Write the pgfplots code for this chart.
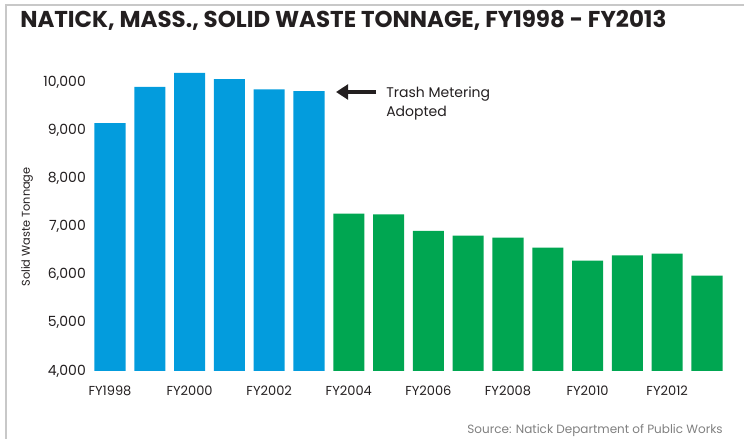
\documentclass[border=0pt]{standalone}
\usepackage{fontspec}
\setmainfont{Poppins}
\newfontfamily\titlefont{Poppins}
\usepackage{pgfplots}
\pgfplotsset{compat=1.18}
\usetikzlibrary{arrows.meta}
\definecolor{barblue}{HTML}{039CDD}
\definecolor{bargreen}{HTML}{00A651}
\definecolor{txt}{HTML}{231F20}
\definecolor{frame}{HTML}{C8C8C8}
\begin{document}
\begin{tikzpicture}[x=0.75pt,y=0.75pt]
\useasboundingbox (0,0) rectangle (744,439);
% frame
\draw[frame,line width=1.5pt] (6,0) -- (6,434) -- (744,434);
% title
\node[anchor=base west,inner sep=0pt,text=txt] at (20,411)
  {\titlefont\bfseries\fontsize{17.2}{20}\selectfont NATICK, MASS., SOLID WASTE TONNAGE, FY1998 - FY2013};
\begin{axis}[
  at={(67.575pt,51pt)}, anchor=south west,
  scale only axis, width=477.6pt, height=234.75pt,
  xmin=-0.5, xmax=15.5, ymin=4000, ymax=10500,
  axis line style={draw=none}, tick style={draw=none},
  ytick={4000,5000,...,10000},
  scaled y ticks=false,
  xtick={0,2,...,14},
  xticklabels={FY1998,FY2000,FY2002,FY2004,FY2006,FY2008,FY2010,FY2012},
  /pgf/number format/1000 sep={,},
  /pgf/number format/assume math mode=true,
  yticklabel style={font=\fontsize{10.5}{12}\selectfont, text=txt, inner sep=0pt, xshift=-3pt},
  xticklabel style={font=\fontsize{9.75}{12}\selectfont, text=txt, inner sep=0pt, yshift=-11pt},
  bar width=0.78,
]
\addplot[ybar, bar shift=0pt, fill=barblue, draw=none] coordinates {
  (0,9150) (1,9900) (2,10190) (3,10060) (4,9850) (5,9810)};
\addplot[ybar, bar shift=0pt, fill=bargreen, draw=none] coordinates {
  (6,7270) (7,7250) (8,6910) (9,6810) (10,6770) (11,6560)
  (12,6290) (13,6400) (14,6440) (15,5980)};
\end{axis}
% y label
\node[rotate=90,text=txt,font=\fontsize{8.5}{10}\selectfont] at (27,212) {Solid Waste Tonnage};
% annotation
\draw[txt,line width=2.6pt,-{Triangle[length=9pt,width=11pt]}] (376,347) -- (336,347);
\node[anchor=base west,inner sep=0pt,text=txt,align=left,font=\fontsize{10.5}{14}\selectfont] at (386,341) {Trash Metering};
\node[anchor=base west,inner sep=0pt,text=txt,font=\fontsize{10.5}{14}\selectfont] at (386,322) {Adopted};
% source
\node[anchor=base east,inner sep=0pt,text=gray,font=\fontsize{9}{11}\selectfont] at (723,5) {Source: Natick Department of Public Works};
\end{tikzpicture}
\end{document}
